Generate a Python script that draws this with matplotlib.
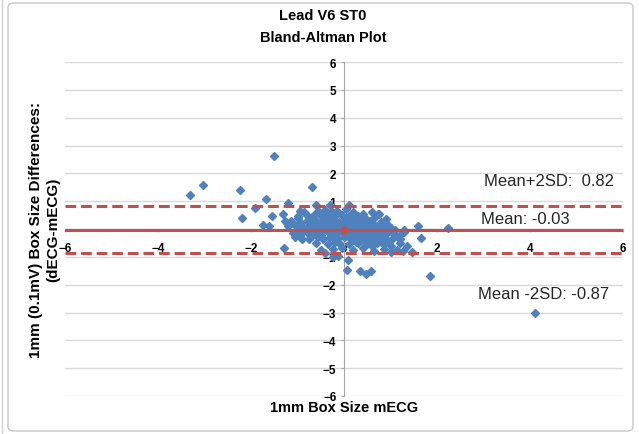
import matplotlib
matplotlib.use("Agg")
import matplotlib.pyplot as plt
from matplotlib.patches import FancyBboxPatch
from matplotlib.lines import Line2D

plt.rcParams['font.family'] = ['Liberation Sans', 'DejaVu Sans']

# mean of both methods (x) and difference dECG-mECG (y)
pts = [
    (-3.31, 1.22), (-3.03, 1.58), (-2.24, 1.40), (-2.20, 0.40), (-1.91, 0.75),
    (-1.68, 1.08), (-1.55, 0.47), (-1.50, 2.63), (-1.74, 0.16), (-1.61, 0.10),
    (-0.69, 1.52), (-1.29, -0.68), (-1.20, 0.93), (-1.31, 0.54), (-1.27, 0.29),
    (-1.05, 0.14), (-0.99, 0.40), (-0.90, -0.36), (-0.69, -0.25), (-0.45, -0.36),
    (-0.24, -0.72), (-0.23, -1.00), (-0.13, -0.97), (0.06, -1.47), (0.09, -1.10),
    (0.34, -1.50), (0.47, -1.62), (0.58, -1.50), (1.60, 0.10), (1.65, -0.33),
    (1.85, -1.70), (2.24, 0.03), (1.46, -0.83), (1.27, -0.80), (1.14, -0.76),
    (1.03, -0.36), (0.95, 0.14), (0.73, 0.54), (1.29, -0.10), (4.10, -3.03),
    (-0.55, 0.65), (-0.40, 0.70), (-0.25, 0.60), (0.05, 0.72), (0.20, 0.60),
    (-0.85, 0.62), (0.60, 0.60), (0.75, 0.55),
    (-1.00, 0.45), (-0.80, 0.50), (-0.65, 0.50), (-0.50, 0.45), (-0.35, 0.50),
    (-0.20, 0.45), (-0.05, 0.50), (0.10, 0.45), (0.30, 0.45), (0.45, 0.40),
    (0.65, 0.40), (-0.70, 0.40), (0.20, 0.38),
    (-1.15, 0.30), (-0.95, 0.25), (-0.80, 0.30), (-0.70, 0.20), (-0.60, 0.30),
    (-0.50, 0.25), (-0.40, 0.30), (-0.30, 0.22), (-0.20, 0.30), (-0.10, 0.25),
    (0.00, 0.30), (0.10, 0.22), (0.20, 0.30), (0.30, 0.20), (0.40, 0.28),
    (0.50, 0.22), (0.60, 0.20), (0.80, 0.25), (0.35, 0.35),
    (-1.20, 0.10), (-0.90, 0.12), (-0.80, 0.05), (-0.70, 0.12), (-0.60, 0.08),
    (-0.50, 0.15), (-0.40, 0.05), (-0.30, 0.12), (-0.20, 0.08), (-0.10, 0.15),
    (0.00, 0.10), (0.10, 0.12), (0.20, 0.05), (0.30, 0.12), (0.40, 0.08),
    (0.50, 0.12), (0.60, 0.05), (0.70, 0.10), (0.85, 0.08), (1.00, 0.05),
    (-1.00, -0.05), (-0.85, 0.00), (-0.75, -0.05), (-0.55, 0.00), (-0.45, -0.05),
    (-0.35, 0.00), (-0.25, -0.05), (-0.15, 0.00), (-0.05, -0.05), (0.05, 0.00),
    (0.15, -0.05), (0.25, 0.00), (0.35, -0.05), (0.45, 0.00), (0.55, -0.05),
    (0.65, -0.02), (0.75, -0.05), (0.90, -0.02), (1.10, -0.05), (1.30, -0.02),
    (-1.10, -0.15), (-0.95, -0.20), (-0.80, -0.12), (-0.60, -0.15), (-0.50, -0.20),
    (-0.35, -0.12), (-0.20, -0.18), (-0.10, -0.10), (0.00, -0.15), (0.10, -0.20),
    (0.20, -0.12), (0.30, -0.18), (0.40, -0.10), (0.50, -0.20), (0.60, -0.15),
    (0.70, -0.20), (0.80, -0.12), (0.90, -0.18), (1.05, -0.15), (1.20, -0.20),
    (-1.05, -0.30), (-0.75, -0.35), (-0.55, -0.30), (-0.30, -0.30), (-0.15, -0.35),
    (0.00, -0.30), (0.15, -0.35), (0.25, -0.28), (0.35, -0.35), (0.45, -0.30),
    (0.55, -0.40), (0.65, -0.32), (0.75, -0.38), (0.85, -0.30), (1.20, -0.35),
    (0.95, -0.42),
    (-0.60, -0.50), (-0.35, -0.55), (-0.10, -0.50), (0.10, -0.55), (0.30, -0.50),
    (0.50, -0.55), (0.60, -0.62), (0.70, -0.50), (0.85, -0.55), (1.00, -0.60),
    (1.20, -0.50), (1.35, -0.60),
    (-0.50, -0.75), (-0.05, -0.70), (0.20, -0.75), (0.40, -0.70), (0.65, -0.80),
    (0.85, -0.72), (1.00, -0.82), (-0.40, -0.85),
    (-0.45, 0.20), (-0.25, 0.40), (0.05, 0.40), (0.15, 0.15), (-0.15, 0.20),
    (0.25, 0.20), (0.45, 0.15), (-0.65, 0.00), (-0.90, -0.10), (0.35, 0.05),
    (-0.05, 0.05), (0.55, 0.30), (-0.55, -0.10), (-0.25, -0.25), (0.05, -0.25),
    (0.35, -0.25), (0.55, -0.25), (0.25, -0.45), (0.45, -0.45), (-0.20, -0.45),
    (0.80, -0.45), (1.10, -0.25), (-0.40, 0.60), (-0.15, 0.65), (0.40, 0.55),
    (0.90, 0.35), (-0.95, 0.65), (-0.60, 0.85), (-0.30, 0.85), (0.10, 0.85),
]
x_vals = [p[0] for p in pts]
y_vals = [p[1] for p in pts]

mean_diff = -0.03
upper_loa = 0.82
lower_loa = -0.87

red = '#C0504D'
blue = '#4F81BD'

fig = plt.figure(figsize=(6.39, 4.35), dpi=100)
# chart frame like excel
fig.patches.append(FancyBboxPatch((8/639, 3/435), 625/639, 428/435,
                                  boxstyle="round,pad=0,rounding_size=0.01",
                                  transform=fig.transFigure, fc='none',
                                  ec='#C8C8C8', lw=1.0, zorder=-1))
fig.lines.append(Line2D([2/639, 2/639], [0, 1], transform=fig.transFigure,
                        color='#D0D0D0', lw=1.0))

ax = fig.add_axes([65/639, 1 - 397/435, 558/639, 334/435])
ax.set_xlim(-6, 6)
ax.set_ylim(-6, 6)
ax.patch.set_alpha(0)

for yy in range(-6, 7):
    ax.axhline(yy, color='#D9D9D9', lw=1.0, zorder=0)

ax.spines['left'].set_position('zero')
ax.spines['bottom'].set_position('zero')
ax.spines['right'].set_visible(False)
ax.spines['top'].set_visible(False)
ax.spines['left'].set_color('#A6A6A6')
ax.spines['bottom'].set_color('#A6A6A6')
ax.spines['left'].set_linewidth(0.8)

ax.set_xticks([-6, -4, -2, 0, 2, 4, 6])
ax.set_yticks(range(-6, 7))
ax.tick_params(axis='y', length=2, pad=3.5, color='#A6A6A6')
ax.tick_params(axis='x', length=2, pad=7.5, color='#A6A6A6')
for lab in ax.get_xticklabels() + ax.get_yticklabels():
    lab.set_fontweight('bold')
    lab.set_fontsize(8.5)

ax.plot(x_vals, y_vals, linestyle='none', marker='D', ms=4, color=blue,
        mec=blue, zorder=3)

ax.axhline(mean_diff, xmin=0, xmax=1, color=red, lw=2.2, zorder=4)
ax.axhline(upper_loa, color=red, lw=2.2, dashes=(3.5, 1.6), zorder=4)
ax.axhline(lower_loa, color=red, lw=2.2, dashes=(3.5, 1.6), zorder=4)
ax.plot([0], [mean_diff], marker='o', ms=5, color=red, zorder=5)

ax.text(5.8, 1.75, 'Mean+2SD:  0.82', ha='right', va='center', fontsize=12,
        color='#262626')
ax.text(3.9, 0.38, 'Mean: -0.03', ha='center', va='center', fontsize=12,
        color='#262626')
ax.text(5.7, -2.3, 'Mean -2SD: -0.87', ha='right', va='center', fontsize=12,
        color='#262626')

fig.text(323/639, 1 - 16/435, 'Lead V6 ST0', ha='center', va='center',
         fontsize=10.5, fontweight='bold')
fig.text(323/639, 1 - 38/435, 'Bland-Altman Plot', ha='center', va='center',
         fontsize=10.5, fontweight='bold')
fig.text(344/639, 1 - 408/435, '1mm Box Size mECG', ha='center', va='center',
         fontsize=10.5, fontweight='bold')
fig.text(45/639, 1 - 230/435, '1mm (0.1mV) Box Size Differences:\n(dECG-mECG)',
         ha='center', va='center', rotation=90, fontsize=11,
         fontweight='bold', linespacing=1.3)

fig.savefig('out.png', dpi=100)
